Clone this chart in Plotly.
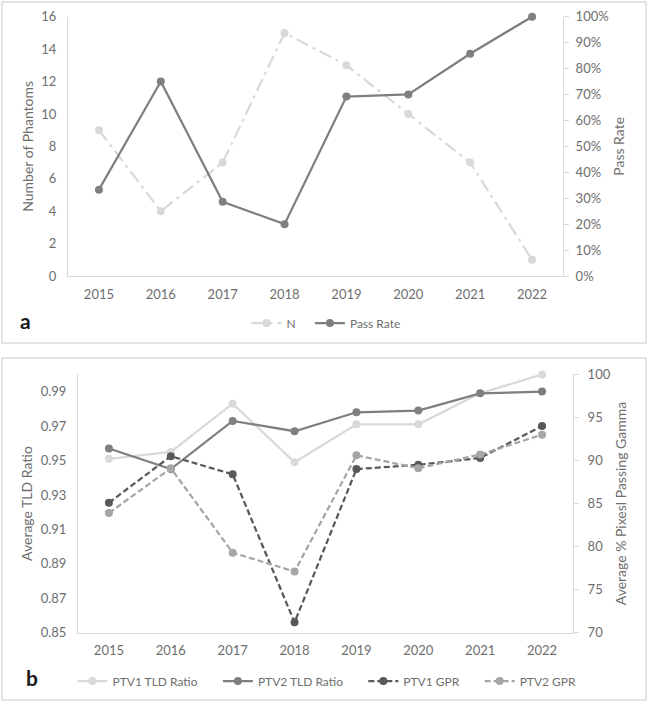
import plotly.graph_objects as go

years = ["2015", "2016", "2017", "2018", "2019", "2020", "2021", "2022"]

# Panel a
n_phantoms = [9, 4, 7, 15, 13, 10, 7, 1]
pass_rate = [0.333, 0.75, 0.286, 0.20, 0.692, 0.70, 0.857, 1.00]

# Panel b
ptv1_tld = [0.951, 0.955, 0.983, 0.949, 0.971, 0.971, 0.989, 1.000]
ptv2_tld = [0.957, 0.945, 0.973, 0.967, 0.978, 0.979, 0.989, 0.990]
ptv1_gpr = [85.1, 90.5, 88.4, 71.2, 89.0, 89.5, 90.3, 94.0]
ptv2_gpr = [83.9, 89.1, 79.3, 77.1, 90.6, 89.1, 90.7, 93.0]

FONT = "Lato"
TXT = "#6e6e6e"
AX = "#d9d9d9"
C_LIGHT = "#d9d9d9"
C_MID = "#a6a6a6"
C_DARK = "#7f7f7f"
C_DARKER = "#595959"
PAD = "\u00a0" * 5

fig = go.Figure()

def line_trace(x, y, name, color, dash, xa, ya, legend, width=2.25):
    return go.Scatter(
        x=x, y=y, name=name, mode="lines+markers",
        line=dict(color=color, width=width, dash=dash),
        marker=dict(color=color, size=8, symbol="circle"),
        xaxis=xa, yaxis=ya, legend=legend, cliponaxis=False,
    )

# Panel a traces
fig.add_trace(line_trace(years, n_phantoms, "N" + "\u00a0" * 3, C_LIGHT, "13px,5px,3px,5px", "x", "y", "legend"))
fig.add_trace(line_trace(years, pass_rate, "Pass Rate", C_DARK, "solid", "x", "y2", "legend"))

# Panel b traces
fig.add_trace(line_trace(years, ptv1_tld, "PTV1 TLD Ratio" + PAD, C_LIGHT, "solid", "x2", "y3", "legend2"))
fig.add_trace(line_trace(years, ptv2_tld, "PTV2 TLD Ratio" + PAD, C_DARK, "solid", "x2", "y3", "legend2"))
fig.add_trace(line_trace(years, ptv1_gpr, "PTV1 GPR" + PAD, C_DARKER, "6px,3px", "x2", "y4", "legend2"))
fig.add_trace(line_trace(years, ptv2_gpr, "PTV2 GPR", C_MID, "6px,3px", "x2", "y4", "legend2"))

W, H = 648, 703
tickfont = dict(family=FONT, size=13, color=TXT)
titlefont = dict(family=FONT, size=14, color=TXT)
legfont = dict(family=FONT, size=12, color=TXT)

def xaxis(domain, anchor):
    return dict(domain=domain, anchor=anchor, type="category", range=[-0.5, 7.5],
                showline=True, linecolor=AX, linewidth=1, showgrid=False, zeroline=False,
                ticks="", tickfont=tickfont, ticklabelstandoff=6, fixedrange=True)

fig.update_layout(
    width=W, height=H,
    margin=dict(l=0, r=0, t=0, b=0, autoexpand=False),
    paper_bgcolor="white", plot_bgcolor="white",
    font=dict(family=FONT, color=TXT),
    xaxis=xaxis([68 / W, 563 / W], "y"),
    yaxis=dict(domain=[(H - 276) / H, (H - 16.7) / H], anchor="x", range=[0, 16], dtick=2,
               showline=True, linecolor=AX, showgrid=False, zeroline=False, ticks="",
               tickfont=tickfont, ticklabelstandoff=8,
               title=dict(text="Number of Phantoms", font=titlefont, standoff=4)),
    yaxis2=dict(overlaying="y", side="right", anchor="x", range=[0, 1], dtick=0.1,
                tickformat=".0%", showline=True, linecolor=AX, showgrid=False, zeroline=False,
                ticks="outside", ticklen=5, tickcolor=AX, tickfont=tickfont, ticklabelstandoff=4,
                title=dict(text="Pass Rate", font=titlefont, standoff=6)),
    xaxis2=xaxis([78 / W, 573 / W], "y3"),
    yaxis3=dict(domain=[(H - 632.7) / H, (H - 374.4) / H], anchor="x2", range=[0.85, 1.0],
                tick0=0.85, dtick=0.02, tickformat=".2f",
                showline=True, linecolor=AX, showgrid=False, zeroline=False, ticks="",
                tickfont=tickfont, ticklabelstandoff=8,
                title=dict(text="Average TLD Ratio", font=titlefont, standoff=4)),
    yaxis4=dict(overlaying="y3", side="right", anchor="x2", range=[70, 100], dtick=5,
                showline=True, linecolor=AX, showgrid=False, zeroline=False,
                ticks="outside", ticklen=5, tickcolor=AX, tickfont=tickfont, ticklabelstandoff=6,
                title=dict(text="Average % Pixesl Passing Gamma", font=titlefont, standoff=6)),
    legend=dict(orientation="h", x=326 / W, xanchor="center", y=(H - 323) / H, yanchor="middle",
                font=legfont, bgcolor="rgba(0,0,0,0)", itemwidth=30, tracegroupgap=0),
    legend2=dict(orientation="h", x=327 / W, xanchor="center", y=(H - 681) / H, yanchor="middle",
                 font=legfont, bgcolor="rgba(0,0,0,0)", itemwidth=30, tracegroupgap=0),
    showlegend=True,
)

# Panel frames
fig.add_shape(type="rect", xref="paper", yref="paper",
              x0=2 / W, x1=646 / W, y0=(H - 343) / H, y1=(H - 2) / H,
              line=dict(color="#dcdcdc", width=1.5), layer="below")
fig.add_shape(type="rect", xref="paper", yref="paper",
              x0=2 / W, x1=646 / W, y0=(H - 700) / H, y1=(H - 358) / H,
              line=dict(color="#dcdcdc", width=1.5), layer="below")

# Panel labels
fig.add_annotation(text="<b>a</b>", xref="paper", yref="paper", x=25 / W, y=(H - 321) / H,
                   showarrow=False, xanchor="center", yanchor="middle",
                   font=dict(family=FONT, size=21, color="#1a1a1a"))
fig.add_annotation(text="<b>b</b>", xref="paper", yref="paper", x=32 / W, y=(H - 677) / H,
                   showarrow=False, xanchor="center", yanchor="middle",
                   font=dict(family=FONT, size=21, color="#1a1a1a"))

fig.write_html("out.html", config={"displayModeBar": False},
               post_script="document.body.style.margin='0';document.body.style.overflow='hidden';")
